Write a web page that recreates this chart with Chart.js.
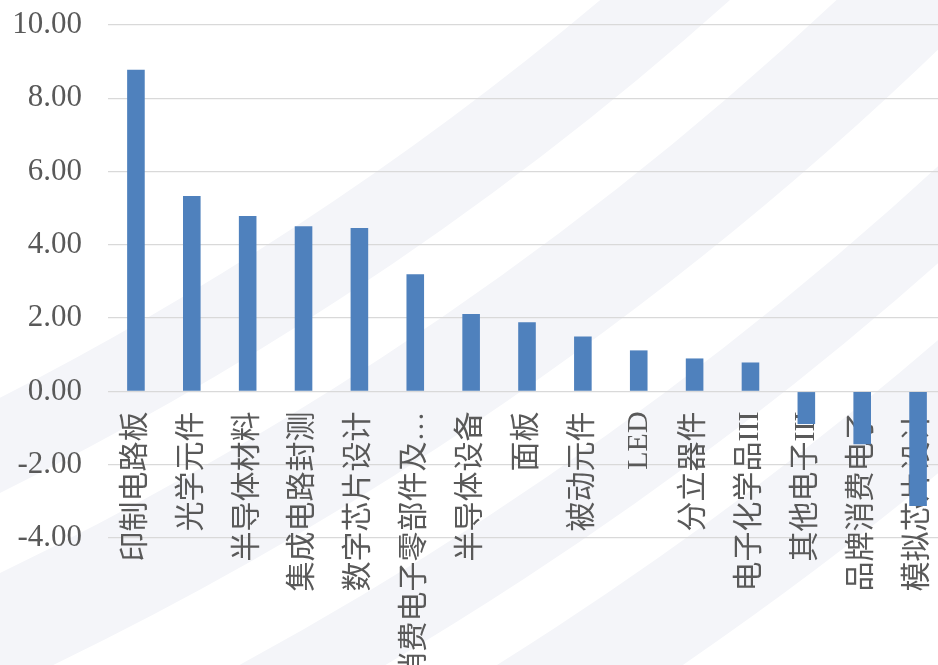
<!DOCTYPE html>
<html>
<head>
<meta charset="utf-8">
<script src="https://cdn.jsdelivr.net/npm/chart.js@4/dist/chart.umd.min.js"></script>
<style>
  html, body { margin: 0; padding: 0; background: #fff; overflow: hidden; }
  #wrap { width: 946px; height: 665px; }
</style>
</head>
<body>
<div id="wrap"><canvas id="growthChart" width="946" height="665"></canvas></div>
<script>
// sectors, sorted by value
const sectors = [
    '印制电路板', '光学元件', '半导体材料', '集成电路封测', '数字芯片设计',
    '消费电子零部件及…', '半导体设备', '面板', '被动元件', 'LED',
    '分立器件', '电子化学品III', '其他电子III', '品牌消费电子', '模拟芯片设计'
];
const values = [8.78, 5.33, 4.79, 4.51, 4.46, 3.20, 2.11, 1.89, 1.50, 1.12, 0.90, 0.79, -0.89, -1.44, -3.13];
const yTicks = [-4, -2, 0, 2, 4, 6, 8, 10];

const BAR_BLUE = '#4f81bd';
const TEXT_GREY = '#595959';
const GRID_GREY = '#d9d9d9';

// faint curved bands behind the plot
const backdrop = {
    id: 'backdrop',
    beforeDraw(chart) {
        const { ctx, width, height } = chart;
        ctx.save();
        ctx.fillStyle = '#ffffff';
        ctx.fillRect(0, 0, width, height);
        ctx.strokeStyle = '#f4f5f9';
        const cx = -1441, cy = -2428;
        [[3172, 3257], [3329, 3435], [3520, 3592], [3650, 3752]].forEach(([r0, r1]) => {
            ctx.beginPath();
            ctx.lineWidth = r1 - r0;
            ctx.arc(cx, cy, (r0 + r1) / 2, 0, Math.PI / 2);
            ctx.stroke();
        });
        ctx.restore();
    }
};

const ctx = document.getElementById('growthChart').getContext('2d');
new Chart(ctx, {
    type: 'bar',
    data: {
        labels: sectors,
        datasets: [{
            data: values,
            backgroundColor: BAR_BLUE,
            categoryPercentage: 1,
            barPercentage: 0.315
        }]
    },
    options: {
        responsive: false,
        animation: false,
        layout: { padding: { top: 25, bottom: 127, left: 0, right: 0 } },
        plugins: { legend: { display: false }, tooltip: { enabled: false } },
        scales: {
            x: {
                position: { y: 0 },
                z: 1,
                afterFit(scale) { scale.paddingLeft = 0; scale.paddingRight = 0; },
                grid: { display: false, drawTicks: false },
                border: { display: false },
                ticks: {
                    autoSkip: false,
                    minRotation: 90,
                    maxRotation: 90,
                    padding: 20,
                    color: TEXT_GREY,
                    font: { family: '"Liberation Serif", "Noto Sans CJK SC"', size: 30 }
                }
            },
            y: {
                min: -4,
                max: 10,
                afterFit(scale) {
                    scale.width = 108;
                    scale.paddingTop = 0;
                    scale.paddingBottom = 0;
                },
                afterBuildTicks(scale) { scale.ticks = yTicks.map(v => ({ value: v })); },
                grid: { color: GRID_GREY, lineWidth: 1.3, drawTicks: false },
                border: { display: false },
                ticks: {
                    padding: 26,
                    color: TEXT_GREY,
                    font: { family: '"Liberation Serif"', size: 31 },
                    callback: v => v.toFixed(2)
                }
            }
        }
    },
    plugins: [backdrop]
});
</script>
</body>
</html>
